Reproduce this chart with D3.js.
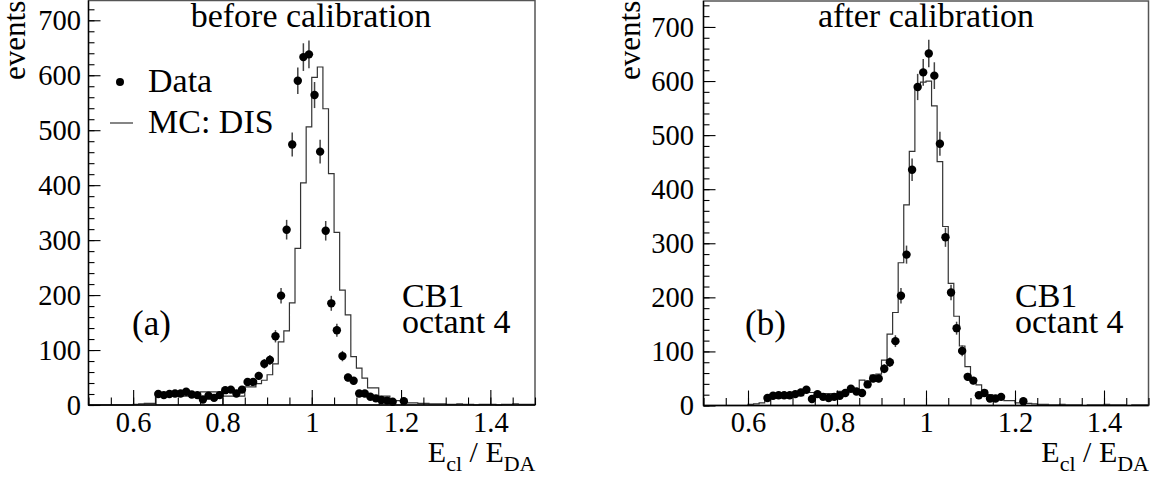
<!DOCTYPE html>
<html>
<head>
<meta charset="utf-8">
<script src="https://cdn.jsdelivr.net/npm/d3@7"></script>
<style>
  body { margin: 0; background: #fff; }
  svg { display: block; }
  text { font-family: "Liberation Serif", "Times New Roman", serif; fill: #000; }
  .tick text { font-size: 28.5px; }
</style>
</head>
<body>
<div id="chart"></div>
<script>

// histogram binning: 80 bins from 0.5 to 1.5
var binLow = 0.5;
var binWidth = 0.0125;

// (a) before calibration
var dataBefore = [0,0,0,0,0,0,0,0,0,0,0,0,
    20,18,20,21,21,24,19,18,
    10,17,13,18,27,28,21,28,42,42,
    53,75,82,125,199,319,474,590,633,638,
    564,461,317,185,136,89,50,44,21,21,
    15,12,9,8,6,0,7,0,0,0,
    0,0,0,0,0,0,0,0,0,0,0,0,0,0,0,0,0,0,0,0];
var mcBefore = [0,0,0,0,0,0,0,0,1,2,3,3,
    16,16,16,16,16,16,16,16,
    24,24,24,24,16,16,16,16,33,33,
    39,45,55,75,115,135,186,285,404,506,
    596,615,539,421,314,209,164,88,67,49,
    31,31,16,16,8,8,8,4,4,3,
    3,2,2,2,1,1,2,1,1,0,
    1,1,1,0,1,1,2,1,1,1];

// (b) after calibration
var dataAfter = [0,0,0,0,0,0,0,0,0,0,0,
    14,18,19,19,19,21,24,29,12,
    21,16,14,16,18,23,31,26,23,39,
    50,50,68,80,119,203,279,436,589,616,
    651,610,484,311,209,143,101,53,46,19,
    23,13,13,16,0,0,0,8,0,0,
    0,0,0,0,0,0,0,0,0,0,0,0,0,0,0,0,0,0,0,0];
var mcAfter = [0,0,0,0,0,0,0,0,2,3,5,10,
    18,18,18,18,18,18,24,24,
    22,22,22,22,26,26,26,26,47,45,
    56,58,84,132,172,264,371,470,587,598,
    600,554,451,331,226,165,110,72,50,38,
    28,20,15,15,9,9,5,4,4,3,
    2,2,1,1,2,1,1,1,0,1,
    1,1,2,1,1,1,0,1,1,1];

var xTicks = [0.6, 0.8, 1, 1.2, 1.4];
var xTickLabels = ["0.6", "0.8", "1", "1.2", "1.4"];
var yTicks = [0, 100, 200, 300, 400, 500, 600, 700];
var titles = ["before calibration", "after calibration"];
var tags = ["(a)", "(b)"];
var legendLabels = ["Data", "MC: DIS"];
var noteLines = ["CB1", "octant 4"];

var w = 1159;
var h = 483;

var svg = d3.select("#chart")
    .append("svg")
    .attr("width", w)
    .attr("height", h);

svg.append("rect").attr("width", w).attr("height", h).attr("fill", "#fff");

function addText(g, x, y, str, size, anchor) {
    return g.append("text")
        .attr("x", x)
        .attr("y", y)
        .style("font-size", size + "px")
        .attr("text-anchor", anchor || "start")
        .text(str);
}

var panels = [
    {left: 88.5, right: 535, top: 0.5, bottom: 405, yMax: 736, data: dataBefore, mc: mcBefore,
     title: titles[0], titleX: 311, tag: tags[0], tagX: 132, noteX: 402, yLabX: 25, yPad: 7.5, legend: true},
    {left: 703.5, right: 1148.5, top: 1, bottom: 405.5, yMax: 748, data: dataAfter, mc: mcAfter,
     title: titles[1], titleX: 926, tag: tags[1], tagX: 745, noteX: 1015, yLabX: 640, yPad: 9.5, legend: false}
];

panels.forEach(drawPanel);

function drawPanel(p) {
    var g = svg.append("g");
    var x = d3.scaleLinear().domain([0.5, 1.5]).range([p.left, p.right]);
    var y = d3.scaleLinear().domain([0, p.yMax]).range([p.bottom, p.top]);

    // frame
    g.append("rect")
        .attr("x", p.left).attr("y", p.top)
        .attr("width", p.right - p.left).attr("height", p.bottom - p.top)
        .attr("fill", "none").attr("stroke", "#555").attr("stroke-width", 1.5);

    // MC histogram as a step line
    var edges = d3.range(p.mc.length + 1).map(function(k) { return binLow + k * binWidth; });
    var steps = edges.map(function(e, k) {
        return [e, p.mc[Math.min(k, p.mc.length - 1)]];
    });
    var line = d3.line()
        .x(function(d) { return x(d[0]); })
        .y(function(d) { return y(d[1]); })
        .curve(d3.curveStepAfter);
    g.append("path")
        .datum(steps)
        .attr("d", line)
        .attr("fill", "none")
        .attr("stroke", "#333")
        .attr("stroke-width", 1.2);

    // axes, ticks pointing inwards
    var xMinor = d3.axisBottom(x).tickValues(d3.range(0.5, 1.5001, 0.05))
        .tickSizeInner(-7.5).tickSizeOuter(0).tickFormat("");
    var xMajor = d3.axisBottom(x).tickValues(xTicks)
        .tickSizeInner(-15).tickSizeOuter(0).tickPadding(6.5)
        .tickFormat(function(d, i) { return xTickLabels[i]; });
    var yMinor = d3.axisLeft(y).tickValues(d3.range(0, p.yMax, 20))
        .tickSizeInner(-6).tickSizeOuter(0).tickFormat("");
    var yMajor = d3.axisLeft(y).tickValues(yTicks)
        .tickSizeInner(-12).tickSizeOuter(0).tickPadding(p.yPad)
        .tickFormat(function(d) { return d; });

    [xMinor, xMajor].forEach(function(ax) {
        g.append("g").attr("transform", "translate(0," + p.bottom + ")").call(ax);
    });
    [yMinor, yMajor].forEach(function(ax) {
        g.append("g").attr("transform", "translate(" + p.left + ",0)").call(ax);
    });
    g.selectAll(".domain").remove();
    g.selectAll("g").attr("font-family", null).attr("font-size", null);
    g.selectAll(".tick line").attr("stroke", "#000").attr("stroke-width", 1.1);

    // axis lines
    g.append("line").attr("x1", p.left).attr("x2", p.right)
        .attr("y1", p.bottom).attr("y2", p.bottom).attr("stroke", "#000").attr("stroke-width", 1.3);
    g.append("line").attr("x1", p.left).attr("x2", p.left)
        .attr("y1", p.top).attr("y2", p.bottom).attr("stroke", "#000").attr("stroke-width", 1.3);

    // data points with sqrt(N) error bars
    var pts = p.data.map(function(v, i) {
        return {x: binLow + (i + 0.5) * binWidth, v: v};
    }).filter(function(d) { return d.v > 0; });

    g.selectAll(".err")
        .data(pts)
        .enter()
        .append("line")
        .attr("x1", function(d) { return x(d.x); })
        .attr("x2", function(d) { return x(d.x); })
        .attr("y1", function(d) { return y(d.v - Math.sqrt(d.v)); })
        .attr("y2", function(d) { return y(d.v + Math.sqrt(d.v)); })
        .attr("stroke", "#444")
        .attr("stroke-width", 1.5);

    g.selectAll(".pt")
        .data(pts)
        .enter()
        .append("circle")
        .attr("cx", function(d) { return x(d.x); })
        .attr("cy", function(d) { return y(d.v); })
        .attr("r", 4.2)
        .attr("fill", "#000");

    // texts
    addText(g, p.titleX, 27, p.title, 34, "middle");
    addText(g, p.tagX, 335, p.tag, 35);
    addText(g, p.noteX, 307, noteLines[0], 34);
    addText(g, p.noteX, 333, noteLines[1], 34);

    g.append("text")
        .attr("transform", "translate(" + p.yLabX + ",80) rotate(-90)")
        .style("font-size", "31px")
        .text("events");

    var xt = g.append("text")
        .attr("x", p.right + 0.5)
        .attr("y", 462)
        .style("font-size", "30px")
        .attr("text-anchor", "end");
    xt.append("tspan").text("E");
    xt.append("tspan").style("font-size", "22px").attr("dy", 9).text("cl");
    xt.append("tspan").attr("dy", -9).text(" / E");
    xt.append("tspan").style("font-size", "22px").attr("dy", 9).text("DA");

    if (p.legend) {
        g.append("circle").attr("cx", 120).attr("cy", 82).attr("r", 4).attr("fill", "#000");
        addText(g, 148, 92, legendLabels[0], 34);
        g.append("line").attr("x1", 110).attr("x2", 133).attr("y1", 123).attr("y2", 123)
            .attr("stroke", "#333").attr("stroke-width", 1.2);
        addText(g, 148, 133, legendLabels[1], 34);
    }
}

</script>
</body>
</html>
